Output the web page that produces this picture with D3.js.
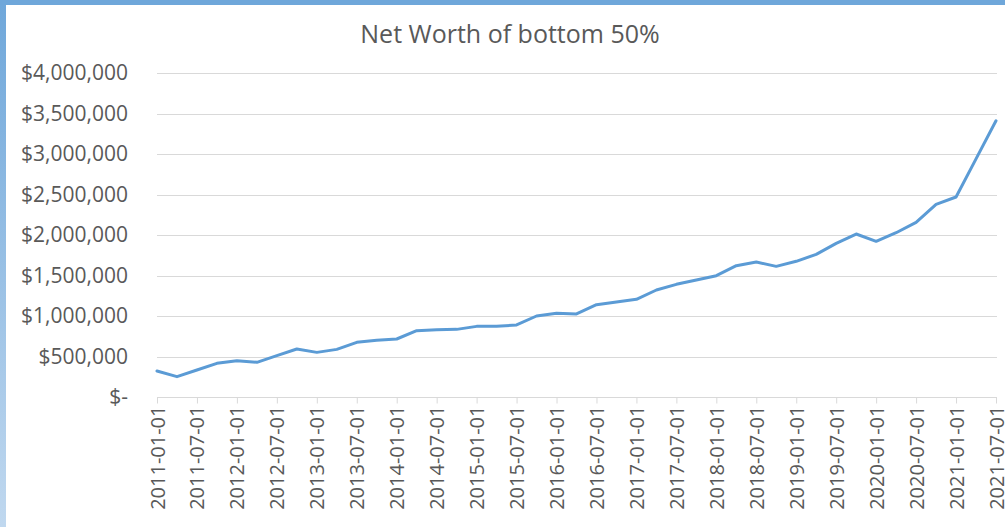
<!DOCTYPE html>
<html>
<head>
<meta charset="utf-8">
<script src="https://cdn.jsdelivr.net/npm/d3@7"></script>
<style>
  html, body { margin: 0; padding: 0; background: #fff; }
  svg { display: block; font-family: "Open Sans", sans-serif; }
</style>
</head>
<body>
<div id="chart"></div>
<script>
// quarterly observations
const dates = [
  "2011-01-01", "2011-04-01", "2011-07-01", "2011-10-01",
  "2012-01-01", "2012-04-01", "2012-07-01", "2012-10-01",
  "2013-01-01", "2013-04-01", "2013-07-01", "2013-10-01",
  "2014-01-01", "2014-04-01", "2014-07-01", "2014-10-01",
  "2015-01-01", "2015-04-01", "2015-07-01", "2015-10-01",
  "2016-01-01", "2016-04-01", "2016-07-01", "2016-10-01",
  "2017-01-01", "2017-04-01", "2017-07-01", "2017-10-01",
  "2018-01-01", "2018-04-01", "2018-07-01", "2018-10-01",
  "2019-01-01", "2019-04-01", "2019-07-01", "2019-10-01",
  "2020-01-01", "2020-04-01", "2020-07-01", "2020-10-01",
  "2021-01-01", "2021-04-01", "2021-07-01"
];
const netWorth = [
  321000, 251000, 333000, 416000,
  448000, 428000, 510000, 593000,
  551000, 588000, 675000, 701000,
  716000, 819000, 829000, 835000,
  872000, 872000, 889000, 1000000,
  1033000, 1025000, 1140000, 1173000,
  1206000, 1321000, 1391000, 1444000,
  1498000, 1621000, 1667000, 1613000,
  1675000, 1761000, 1897000, 2012000,
  1922000, 2028000, 2156000, 2379000,
  2469000, 2940000, 3411000
];
const yTicks = [0, 500000, 1000000, 1500000, 2000000, 2500000, 3000000, 3500000, 4000000];
const chartTitle = "Net Worth of bottom 50%";

const W = 1005, H = 527;
const margin = { top: 73, right: 9, bottom: 130, left: 157 };

const svg = d3.select("#chart").append("svg")
  .attr("width", W)
  .attr("height", H);

// frame: blue band on top and a fading band on the left
const grad = svg.append("defs").append("linearGradient")
  .attr("id", "edge")
  .attr("x1", 0).attr("y1", 0).attr("x2", 0).attr("y2", 1);
grad.append("stop").attr("offset", "0%").attr("stop-color", "#6FA7DA");
grad.append("stop").attr("offset", "100%").attr("stop-color", "#C0D8EF");
svg.append("rect").attr("x", 0).attr("y", 0).attr("width", 6).attr("height", H).attr("fill", "url(#edge)");
svg.append("rect").attr("x", 0).attr("y", 0).attr("width", W).attr("height", 5).attr("fill", "#6FA7DA");

const x = d3.scalePoint()
  .domain(dates)
  .range([margin.left, W - margin.right]);

const y = d3.scaleLinear()
  .domain([0, 4000000])
  .range([H - margin.bottom, margin.top]);

// gridlines
svg.append("g")
  .selectAll("line")
  .data(yTicks.slice(1))
  .join("line")
  .attr("x1", margin.left)
  .attr("x2", W - margin.right + 1)
  .attr("y1", d => Math.round(y(d)) + 0.5)
  .attr("y2", d => Math.round(y(d)) + 0.5)
  .attr("stroke", "#D9D9D9")
  .attr("stroke-width", 1);

// y labels
const fmt = d3.format("$,");
svg.append("g")
  .selectAll("text")
  .data(yTicks)
  .join("text")
  .attr("x", 128)
  .attr("y", d => y(d))
  .attr("dy", "0.35em")
  .attr("text-anchor", "end")
  .attr("fill", "#595959")
  .style("font-size", "21px")
  .text(d => d === 0 ? "$-" : fmt(d));

// x axis
const halfYears = dates.filter(d => d.endsWith("-01-01") || d.endsWith("-07-01"));
const xAxis = d3.axisBottom(x)
  .tickValues(halfYears)
  .tickSize(6)
  .tickSizeOuter(0);

const gx = svg.append("g")
  .attr("transform", `translate(0,${Math.round(y(0)) + 0.5})`)
  .call(xAxis);
gx.select(".domain").attr("stroke", "#D9D9D9").attr("d", `M${margin.left},0H${W - margin.right + 1}`);
gx.selectAll(".tick line").attr("stroke", "#D9D9D9");
gx.selectAll(".tick text")
  .attr("fill", "#595959")
  .style("font-size", "20px")
  .style("font-family", "'Open Sans', sans-serif")
  .attr("transform", "rotate(-90)")
  .attr("text-anchor", "end")
  .attr("x", -8)
  .attr("y", 0)
  .attr("dy", "0.35em");

// line
const line = d3.line()
  .x((d, i) => x(dates[i]))
  .y(d => y(d));

svg.append("path")
  .datum(netWorth)
  .attr("fill", "none")
  .attr("stroke", "#5B9BD5")
  .attr("stroke-width", 3)
  .attr("stroke-linejoin", "round")
  .attr("stroke-linecap", "round")
  .attr("d", line);

// title
svg.append("text")
  .attr("x", 510)
  .attr("y", 43)
  .attr("text-anchor", "middle")
  .attr("fill", "#595959")
  .style("font-size", "25px")
  .text(chartTitle);
</script>
</body>
</html>
